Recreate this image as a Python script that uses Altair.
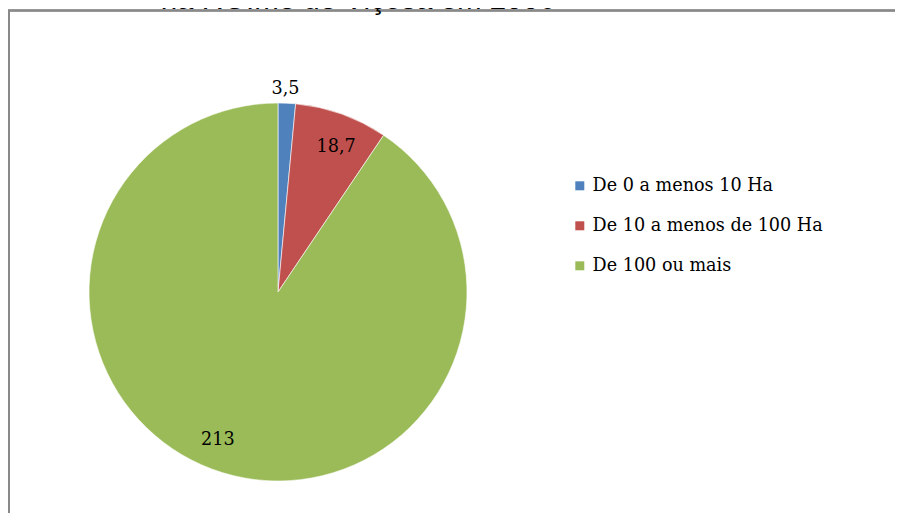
import altair as alt
import pandas as pd

categories = ["De 0 a menos 10 Ha", "De 10 a menos de 100 Ha", "De 100 ou mais"]
values = [3.5, 18.7, 213]
labels = ["3,5", "18,7", "213"]
colors = ["#4F81BD", "#C0504D", "#9BBB59"]
title_text = "na RGIme de Viçosa em 2006"

df = pd.DataFrame({"cat": categories, "value": values, "label": labels, "idx": list(range(len(values)))})

CX, CY, R = 270, 284, 189
SERIF = "DejaVu Serif"

base = alt.Chart(df).encode(
    theta=alt.Theta("value:Q", stack=True),
    order=alt.Order("idx:Q"),
)

arcs = base.mark_arc(outerRadius=R, stroke="white", strokeWidth=0.6).encode(
    x=alt.value(CX), y=alt.value(CY),
    color=alt.Color(
        "cat:N",
        sort=categories,
        scale=alt.Scale(domain=categories, range=colors),
        legend=alt.Legend(
            title=None, orient="none", legendX=563, legendY=169,
            symbolType="square", symbolSize=81, symbolStrokeWidth=0,
            labelFont=SERIF, labelFontSize=17.6, labelColor="black",
            rowPadding=21, labelOffset=4, labelLimit=400,
        ),
    ),
)

def text_layer(i, radius, dx=0, dy=0):
    return base.transform_calculate(
        t=f"datum.idx == {i} ? datum.label : ''"
    ).mark_text(
        radius=radius, font=SERIF, fontSize=17.6, color="black", dx=dx, dy=dy
    ).encode(x=alt.value(CX), y=alt.value(CY), text="t:N")

t_blue = text_layer(0, 204, dx=-2, dy=1)
t_red = text_layer(1, 158, dx=5, dy=4)
t_green = text_layer(2, 158, dx=-14, dy=-3)

frame_v = alt.Chart(df).mark_rule(color="#898989", strokeWidth=2).encode(
    x=alt.value(1), y=alt.value(2.5), y2=alt.value(505)
)
frame_h = alt.Chart(df).mark_rule(color="#898989", strokeWidth=2).encode(
    x=alt.value(0), x2=alt.value(887), y=alt.value(2.5)
)
title = alt.Chart(pd.DataFrame({"t": [title_text]})).mark_text(
    font="Liberation Sans", fontSize=29.5, color="black", baseline="alphabetic", align="center"
).encode(x=alt.value(350), y=alt.value(0.5), text="t:N")

chart = alt.layer(arcs, t_blue, t_red, t_green, frame_v, frame_h, title).properties(
    width=887, height=505, autosize="none", padding=0
).configure_view(stroke=None)

chart.save("out.html", embed_options={"renderer": "svg", "actions": False})
